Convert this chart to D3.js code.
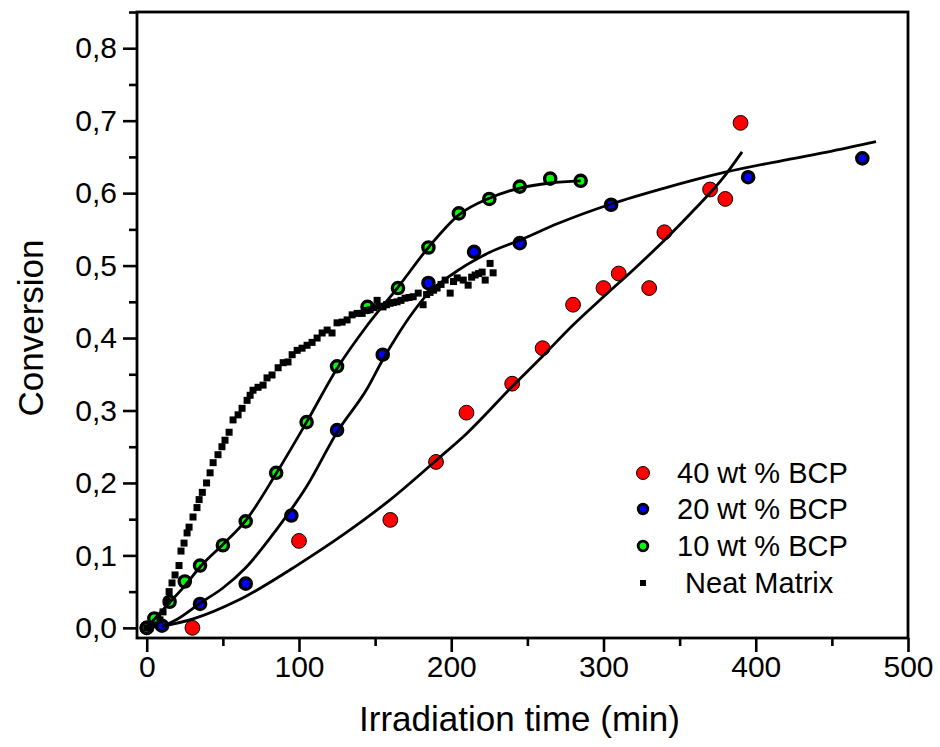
<!DOCTYPE html>
<html>
<head>
<meta charset="utf-8">
<script src="https://cdn.jsdelivr.net/npm/d3@7"></script>
<style>
  body { margin: 0; background: #fff; }
  svg { display: block; font-family: "Liberation Sans", Arial, sans-serif; }
  .axis path { display: none; }
</style>
</head>
<body>
<svg id="chart" width="940" height="747"></svg>
<script>
// 40 wt % BCP
const bcp40Time = [30, 100, 160, 190, 210, 240, 260, 280, 300, 310, 330, 340, 370, 380, 390];
const bcp40Conv = [0.0, 0.12, 0.149, 0.229, 0.297, 0.337, 0.386, 0.446, 0.469, 0.489, 0.469, 0.546, 0.605, 0.592, 0.697];
// 20 wt % BCP
const bcp20Time = [0, 10, 35, 65, 95, 125, 155, 185, 215, 245, 305, 395, 470];
const bcp20Conv = [0.0, 0.003, 0.033, 0.061, 0.155, 0.273, 0.377, 0.476, 0.519, 0.531, 0.584, 0.622, 0.648];
// 10 wt % BCP
const bcp10Time = [0, 5, 15, 25, 35, 50, 65, 85, 105, 125, 145, 165, 185, 205, 225, 245, 265, 285];
const bcp10Conv = [0.0, 0.013, 0.036, 0.064, 0.086, 0.114, 0.147, 0.214, 0.284, 0.361, 0.443, 0.469, 0.525, 0.572, 0.592, 0.609, 0.62, 0.617];
// Neat matrix
const neatTime = [0, 2.2, 5.5, 8.7, 10.7, 13.3, 14.7, 16.6, 18.6, 21.2, 22.5, 24.5, 26.5, 27.8, 30.4, 33, 34.4, 36.5,
  39.3, 41.6, 43.6, 46.8, 49.4, 51.4, 54.1, 56.7, 60, 62.6, 65.9, 67.9, 69.8, 73.1, 76.4, 79, 82.3, 86.3, 89.6,
  92.8, 95.5, 98.8, 102, 105.3, 108.6, 111.9, 115.2, 118.5, 121.7, 125, 128.3, 131.6, 134.9, 138.2, 141.5, 144,
  146.7, 149, 151.3, 153, 155.2, 157.5, 159.8, 162, 164.4, 167, 169.7, 172.3, 175, 178.3, 181.5, 183.8, 186.1,
  188.4, 190.7, 193.3, 196, 199.3, 201.5, 203.9, 207.9, 211.1, 213.4, 215.7, 218, 220.3, 222.3, 225.5, 227.5];
const neatConv = [0.0, 0.0, 0.004, 0.011, 0.022, 0.037, 0.05, 0.062, 0.073, 0.086, 0.106, 0.117, 0.131, 0.139, 0.153, 0.166, 0.177, 0.187,
  0.2, 0.214, 0.228, 0.239, 0.25, 0.259, 0.27, 0.287, 0.294, 0.303, 0.314, 0.321, 0.328, 0.332, 0.335, 0.345, 0.349, 0.359, 0.366,
  0.367, 0.377, 0.383, 0.386, 0.39, 0.394, 0.4, 0.407, 0.411, 0.407, 0.421, 0.422, 0.425, 0.432, 0.434, 0.434, 0.438,
  0.439, 0.442, 0.452, 0.444, 0.443, 0.446, 0.448, 0.449, 0.45, 0.452, 0.455, 0.456, 0.457, 0.462, 0.446, 0.46, 0.463,
  0.466, 0.469, 0.474, 0.48, 0.462, 0.478, 0.483, 0.48, 0.473, 0.484, 0.487, 0.489, 0.491, 0.48, 0.503, 0.49];

// fitted curves
const fit40Time = [10, 30, 60, 100, 130, 160, 190, 210, 240, 260, 280, 300, 320, 340, 360, 380, 391];
const fit40Conv = [0.002, 0.012, 0.038, 0.088, 0.13, 0.177, 0.231, 0.268, 0.333, 0.375, 0.418, 0.457, 0.495, 0.535, 0.578, 0.625, 0.657];
const fit20Time = [10, 20, 35, 50, 65, 85, 105, 125, 145, 155, 165, 175, 185, 200, 225, 245, 270, 305, 340, 380, 420, 450, 479];
const fit20Conv = [0.002, 0.012, 0.034, 0.055, 0.083, 0.135, 0.195, 0.27, 0.331, 0.37, 0.405, 0.436, 0.462, 0.487, 0.518, 0.535, 0.558, 0.585, 0.607, 0.629, 0.646, 0.658, 0.671];
const fit10Time = [0, 5, 15, 25, 35, 50, 65, 85, 105, 125, 145, 165, 185, 205, 225, 245, 265, 285];
const fit10Conv = [0.0, 0.012, 0.035, 0.058, 0.084, 0.115, 0.148, 0.213, 0.284, 0.358, 0.418, 0.47, 0.525, 0.57, 0.593, 0.607, 0.614, 0.617];

const xTicks = [0, 100, 200, 300, 400, 500];
const xMinor = [50, 150, 250, 350, 450];
const yTicks = [0, 0.1, 0.2, 0.3, 0.4, 0.5, 0.6, 0.7, 0.8];
const yMinor = [0.05, 0.15, 0.25, 0.35, 0.45, 0.55, 0.65, 0.75, 0.85];

const legendLabels = ["40 wt % BCP", "20 wt % BCP", "10 wt % BCP", " Neat Matrix"];

const zip = (a, b) => a.map((v, i) => [v, b[i]]);

const frame = { left: 137, right: 908, top: 12, bottom: 638 };
const svg = d3.select("#chart");

const x = d3.scaleLinear().domain([-6.4, 500]).range([frame.left, frame.right]);
const y = d3.scaleLinear().domain([-0.014, 0.85]).range([frame.bottom, frame.top]);

// make the axis ticks solid black and the labels Arial-like
function styleAxis(g) {
  g.attr("font-family", null).attr("font-size", null);
  g.selectAll("line").attr("stroke", "#000").attr("stroke-width", 2.6);
  g.selectAll("text").attr("fill", "#000").style("font-size", "30px")
    .style("font-family", '"Liberation Sans", Arial, sans-serif');
}

// axes
svg.append("g")
  .attr("class", "axis")
  .attr("transform", `translate(0, ${frame.bottom})`)
  .call(d3.axisBottom(x).tickValues(xTicks).tickSize(14).tickPadding(4).tickFormat(d3.format("d")))
  .call(styleAxis);
svg.append("g")
  .attr("class", "axis")
  .attr("transform", `translate(0, ${frame.bottom})`)
  .call(d3.axisBottom(x).tickValues(xMinor).tickSize(8).tickFormat(""))
  .call(styleAxis);

svg.append("g")
  .attr("class", "axis")
  .attr("transform", `translate(${frame.left}, 0)`)
  .call(d3.axisLeft(y).tickValues(yTicks).tickSize(14).tickPadding(6)
    .tickFormat(d => d3.format(".1f")(d).replace(".", ",")))
  .call(styleAxis);
svg.append("g")
  .attr("class", "axis")
  .attr("transform", `translate(${frame.left}, 0)`)
  .call(d3.axisLeft(y).tickValues(yMinor).tickSize(8).tickFormat(""))
  .call(styleAxis);

// frame
svg.append("rect")
  .attr("x", frame.left)
  .attr("y", frame.top)
  .attr("width", frame.right - frame.left)
  .attr("height", frame.bottom - frame.top)
  .attr("fill", "none")
  .attr("stroke", "#000")
  .attr("stroke-width", 2.8);

// axis titles
svg.append("text")
  .attr("x", (frame.left + frame.right) / 2 - 3)
  .attr("y", 731)
  .attr("text-anchor", "middle")
  .attr("font-size", 35)
  .text("Irradiation time (min)");

svg.append("text")
  .attr("transform", "translate(43, 328) rotate(-90)")
  .attr("text-anchor", "middle")
  .attr("font-size", 35)
  .text("Conversion");

const plot = svg.append("g");

// markers
plot.append("g")
  .selectAll("circle")
  .data(zip(bcp40Time, bcp40Conv))
  .join("circle")
  .attr("cx", d => x(d[0]))
  .attr("cy", d => y(d[1]))
  .attr("r", 7.4)
  .attr("fill", "#ff0000")
  .attr("stroke", "#000")
  .attr("stroke-width", 1);

const ringed = [
  { t: bcp20Time, c: bcp20Conv, color: "#0000ff" },
  { t: bcp10Time, c: bcp10Conv, color: "#00ff00" }
];
ringed.forEach(s => {
  plot.append("g")
    .selectAll("circle")
    .data(zip(s.t, s.c))
    .join("circle")
    .attr("cx", d => x(d[0]))
    .attr("cy", d => y(d[1]))
    .attr("r", 5.6)
    .attr("fill", s.color)
    .attr("stroke", "#000")
    .attr("stroke-width", 3.4);
});

plot.append("g")
  .selectAll("rect")
  .data(zip(neatTime, neatConv))
  .join("rect")
  .attr("x", d => x(d[0]) - 3.5)
  .attr("y", d => y(d[1]) - 3.5)
  .attr("width", 7)
  .attr("height", 7)
  .attr("fill", "#000");

// fitted lines
const line = d3.line()
  .x(d => x(d[0]))
  .y(d => y(d[1]))
  .curve(d3.curveMonotoneX);

[[fit40Time, fit40Conv], [fit20Time, fit20Conv], [fit10Time, fit10Conv]].forEach(f => {
  plot.append("path")
    .datum(zip(f[0], f[1]))
    .attr("d", line)
    .attr("fill", "none")
    .attr("stroke", "#000")
    .attr("stroke-width", 2.8);
});

// legend
const legendY = [473, 509, 546, 583];
const legend = svg.append("g");
legendLabels.forEach((label, i) => {
  const g = legend.append("g").attr("transform", `translate(643, ${legendY[i]})`);
  if (i === 0) {
    g.append("circle").attr("r", 6.5).attr("fill", "#ff0000").attr("stroke", "#000").attr("stroke-width", 1);
  } else if (i < 3) {
    g.append("circle").attr("r", 4.8).attr("fill", i === 1 ? "#0000ff" : "#00ff00")
      .attr("stroke", "#000").attr("stroke-width", 2.8);
  } else {
    g.append("rect").attr("x", -3).attr("y", -3).attr("width", 6).attr("height", 6).attr("fill", "#000");
  }
  g.append("text")
    .attr("x", 34)
    .attr("dy", "0.36em")
    .attr("font-size", 29)
    .style("white-space", "pre")
    .text(label);
});
</script>
</body>
</html>
